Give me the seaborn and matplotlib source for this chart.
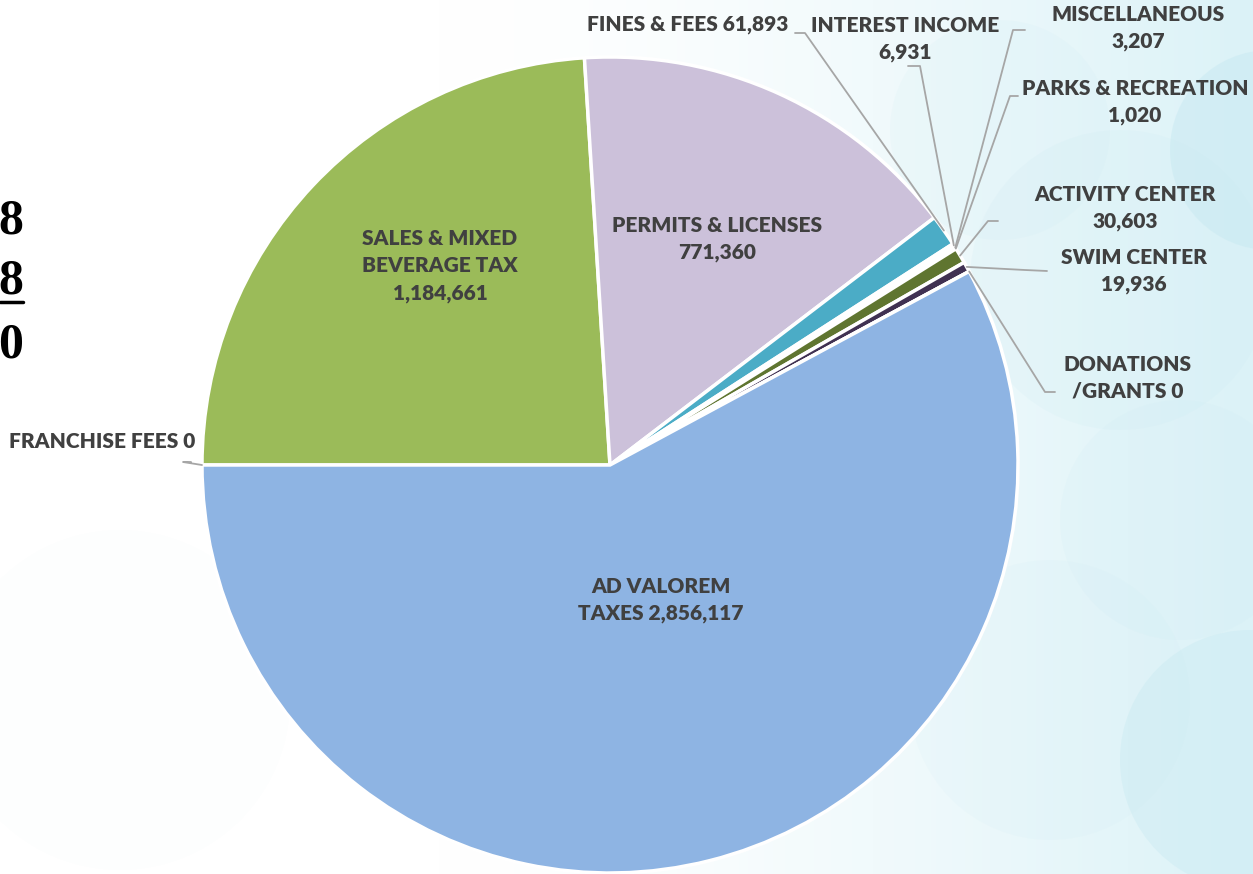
import numpy as np
import matplotlib
matplotlib.use("Agg")
import matplotlib.pyplot as plt
import seaborn as sns
from matplotlib.patches import Circle

# revenue categories, clockwise from 9 o'clock
categories = ["FRANCHISE FEES", "SALES & MIXED BEVERAGE TAX", "PERMITS & LICENSES",
              "FINES & FEES", "INTEREST INCOME", "MISCELLANEOUS", "PARKS & RECREATION",
              "ACTIVITY CENTER", "SWIM CENTER", "DONATIONS /GRANTS", "AD VALOREM TAXES"]
values = [0, 1184661, 771360, 61893, 6931, 3207, 1020, 30603, 19936, 0, 2856117]
labels = ["FRANCHISE FEES 0", "SALES & MIXED\nBEVERAGE TAX\n1,184,661",
          "PERMITS & LICENSES\n771,360", "FINES & FEES 61,893", "INTEREST INCOME\n6,931",
          "MISCELLANEOUS\n3,207", "PARKS & RECREATION\n1,020", "ACTIVITY CENTER\n30,603",
          "SWIM CENTER\n19,936", "DONATIONS\n/GRANTS 0", "AD VALOREM\nTAXES 2,856,117"]
colors = ["#9BBB59", "#9BBB59", "#CCC1DA", "#4BACC6", "#FFFFFF", "#FFFFFF", "#FFFFFF",
          "#5F7530", "#403152", "#8EB4E3", "#8EB4E3"]
left_text = ["8", "8", "0"]

W, H = 1253, 874
sns.set_theme(style="white")
plt.rcParams['font.family'] = ['Lato', 'DejaVu Sans']

fig = plt.figure(figsize=(W / 100, H / 100), dpi=100)
ax = fig.add_axes([0, 0, 1, 1])

# soft background: white to pale cyan, with faint bubbles
gx = np.linspace(0, 1, 300)
grad = np.clip((gx - 0.35) / 0.65, 0, 1) ** 1.5
c0 = np.array([1.0, 1.0, 1.0])
c1 = np.array([0.86, 0.95, 0.97])
img = c0[None, None, :] * (1 - grad)[None, :, None] + c1[None, None, :] * grad[None, :, None]
img = np.repeat(img, 2, axis=0)
ax.imshow(img, extent=[0, W, 0, H], aspect='auto', zorder=0)
for (bx, by, br, ba) in [(1250, 760, 130, 0.4), (1270, 150, 100, 0.5), (1120, 280, 150, 0.15),
                         (1000, 130, 110, 0.12), (1180, 520, 120, 0.12), (120, 700, 170, 0.03),
                         (1050, 700, 140, 0.1)]:
    ax.add_patch(Circle((bx, H - by), br, color="#c8e9f2", alpha=ba, lw=0, zorder=0))

cx, cy, R = 610, H - 465, 408
wedges, _ = ax.pie(values, colors=colors, startangle=180, counterclock=False,
                   center=(cx, cy), radius=R, frame=True,
                   wedgeprops=dict(edgecolor="white", linewidth=2.5))
ax.set_xlim(0, W)
ax.set_ylim(0, H)
ax.set_aspect('equal')
ax.axis('off')

tcol = "#404040"
fs = 15
wt = 'heavy'
# inside labels
inside = {1: (440, 266), 2: (717, 239), 10: (661, 600)}
for i, (tx, ty) in inside.items():
    ax.text(tx, H - ty, labels[i], ha='center', va='center', fontsize=fs,
            fontweight=wt, color=tcol, linespacing=1.5, zorder=5)

# outside labels: text position, alignment, elbow points (image pixels)
outside = {
    0: ((195, 441), 'right', [(183, 462), (191, 462)]),
    3: ((788, 25), 'right', [(805, 33), (795, 33)]),
    4: ((905, 39), 'center', [(920, 66), (908, 66)]),
    5: ((1138, 28), 'center', [(1013, 30), (1025, 30)]),
    6: ((1135, 102), 'center', [(1010, 96), (1018, 96)]),
    7: ((1125, 208), 'center', [(988, 221), (998, 221)]),
    8: ((1134, 271), 'center', [(1025, 270), (1047, 271)]),
    9: ((1128, 378), 'center', [(1045, 392), (1055, 392)]),
}
for i, ((tx, ty), ha, elbow) in outside.items():
    ax.text(tx, H - ty, labels[i], ha=ha, va='center', fontsize=fs,
            fontweight=wt, color=tcol, linespacing=1.5, zorder=5)
    w = wedges[i]
    ang = np.deg2rad((w.theta1 + w.theta2) / 2)
    ex, ey = cx + R * np.cos(ang), cy + R * np.sin(ang)
    xs = [ex, elbow[0][0], elbow[1][0]]
    ys = [ey, H - elbow[0][1], H - elbow[1][1]]
    ax.plot(xs, ys, color="#a6a6a6", lw=1.3, zorder=4)

# clipped text at left edge
for s, ty in zip(left_text, [222, 282, 345]):
    ax.text(23, H - ty, s, ha='right', va='center', fontsize=36, fontweight='bold',
            family=['Liberation Serif'], color='black', zorder=5)
ax.plot([0, 23], [H - 302, H - 302], color='black', lw=2.5, zorder=5)

fig.savefig("out.png", dpi=100)
plt.close(fig)
